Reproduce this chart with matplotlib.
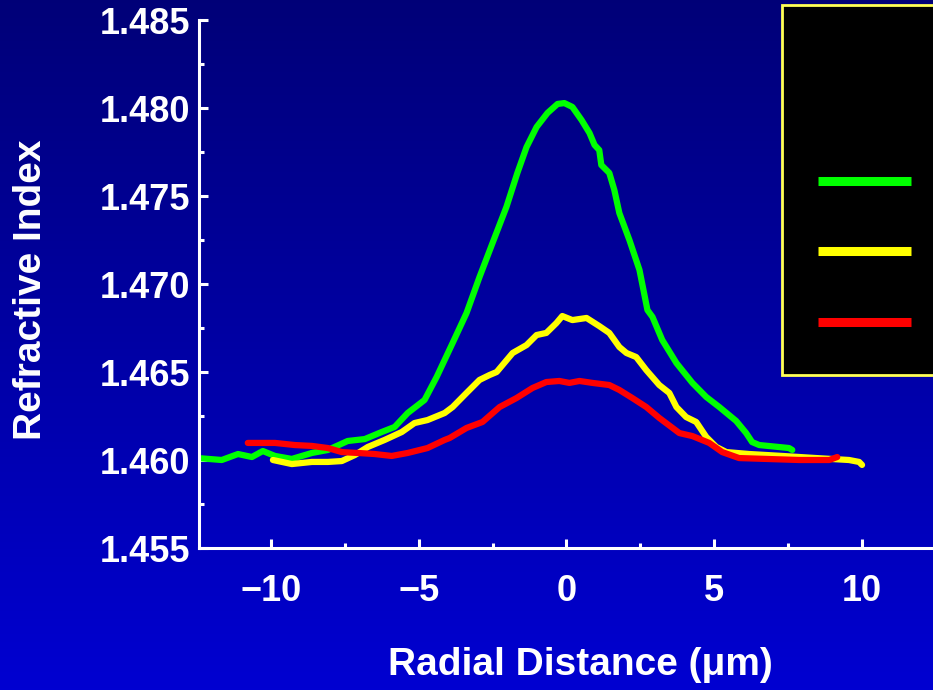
#!/usr/bin/env python3
import matplotlib
matplotlib.use('Agg')
import matplotlib.pyplot as plt
import numpy as np
from matplotlib.ticker import MultipleLocator
from matplotlib.patches import Rectangle

# refractive index profiles (x in um)
green_x = [-12.47, -11.66, -11.11, -10.64, -10.27, -9.86, -9.29, -8.61, -8.07, -7.40,
           -6.82, -6.25, -5.81, -5.37, -4.80, -4.39, -3.85, -3.38, -2.94, -2.50,
           -2.03, -1.66, -1.35, -1.01, -0.64, -0.30, -0.07, 0.20, 0.51, 0.78,
           0.95, 1.11, 1.18, 1.45, 1.62, 1.79, 2.13, 2.47, 2.74, 2.91,
           3.24, 3.72, 4.26, 4.73, 5.17, 5.74, 6.08, 6.28, 6.52, 7.53, 7.64]
green_y = [1.46011, 1.46000, 1.46034, 1.46017, 1.46051, 1.46023, 1.46006, 1.46040, 1.46057, 1.46108,
           1.46119, 1.46159, 1.46188, 1.46267, 1.46341, 1.46472, 1.46665, 1.46835, 1.47040, 1.47233,
           1.47438, 1.47631, 1.47778, 1.47892, 1.47972, 1.48023, 1.48028, 1.48006, 1.47932, 1.47858,
           1.47790, 1.47761, 1.47676, 1.47631, 1.47534, 1.47403, 1.47250, 1.47080, 1.46852, 1.46813,
           1.46682, 1.46551, 1.46438, 1.46358, 1.46301, 1.46222, 1.46153, 1.46102, 1.46085, 1.46068, 1.46057]

yellow_x = [-9.93, -9.29, -8.61, -8.07, -7.60, -7.16, -6.72, -6.15, -5.57, -5.14,
            -4.70, -4.12, -3.85, -3.38, -2.94, -2.60, -2.36, -1.82, -1.35, -1.01,
            -0.68, -0.34, -0.14, 0.20, 0.68, 1.11, 1.45, 1.79, 2.03, 2.36,
            2.70, 3.14, 3.48, 3.72, 4.05, 4.39, 4.73, 5.07, 5.41, 6.18,
            7.30, 8.45, 9.56, 9.90, 10.00]
yellow_y = [1.46000, 1.45977, 1.45989, 1.45989, 1.45994, 1.46028, 1.46074, 1.46114, 1.46159, 1.46210,
            1.46227, 1.46267, 1.46301, 1.46381, 1.46455, 1.46483, 1.46500, 1.46608, 1.46653, 1.46710,
            1.46722, 1.46778, 1.46818, 1.46795, 1.46807, 1.46761, 1.46722, 1.46642, 1.46608, 1.46585,
            1.46511, 1.46426, 1.46381, 1.46301, 1.46244, 1.46216, 1.46131, 1.46074, 1.46045, 1.46034,
            1.46023, 1.46011, 1.46000, 1.45989, 1.45972]

red_x = [-10.78, -9.86, -9.19, -8.61, -8.07, -7.60, -7.06, -6.49, -5.91, -5.37,
         -4.70, -4.12, -3.95, -3.38, -2.84, -2.26, -1.69, -1.15, -0.68, -0.24,
         0.10, 0.44, 0.88, 1.45, 1.79, 2.23, 2.70, 3.14, 3.82, 4.26,
         4.83, 5.27, 5.84, 6.76, 7.87, 8.89, 9.16]
red_y = [1.46097, 1.46097, 1.46085, 1.46080, 1.46068, 1.46045, 1.46040, 1.46034, 1.46023, 1.46040,
         1.46068, 1.46114, 1.46125, 1.46182, 1.46216, 1.46301, 1.46352, 1.46409, 1.46443, 1.46449,
         1.46438, 1.46449, 1.46438, 1.46426, 1.46398, 1.46352, 1.46301, 1.46239, 1.46153, 1.46136,
         1.46097, 1.46045, 1.46011, 1.46006, 1.46000, 1.46000, 1.46017]

series = [(green_x, green_y, '#00ff00'),
          (yellow_x, yellow_y, '#ffff00'),
          (red_x, red_y, '#ff0000')]

x_ticks = [-10, -5, 0, 5, 10]
y_ticks = [1.455, 1.460, 1.465, 1.470, 1.475, 1.480, 1.485]


def plot():
    plt.rcParams['font.family'] = ['Liberation Sans', 'DejaVu Sans']
    plt.rcParams['font.weight'] = 'bold'
    fig = plt.figure(figsize=(9.33, 6.9), dpi=100)

    # blue gradient background
    bg = fig.add_axes([0, 0, 1, 1], zorder=-1)
    grad = np.linspace(0, 1, 256).reshape(-1, 1)
    top = np.array([0.0, 0.0, 0.47])
    bottom = np.array([0.0, 0.0, 0.82])
    img = top + grad[..., None] * (bottom - top)
    bg.imshow(img, aspect='auto', extent=[0, 1, 0, 1], origin='upper')
    bg.set_axis_off()

    ax = fig.add_axes([199 / 933, 142 / 690, 1 - 199 / 933, 528 / 690])
    ax.set_facecolor('none')
    for xs, ys, c in series:
        ax.plot(xs, ys, color=c, lw=4.5, solid_capstyle='round')

    ax.set_xlim(-12.43, 12.4)
    ax.set_ylim(1.455, 1.485)
    ax.set_xticks(x_ticks)
    ax.set_yticks(y_ticks)
    ax.set_yticklabels(['%.3f' % v for v in y_ticks])
    ax.xaxis.set_minor_locator(MultipleLocator(2.5))
    ax.yaxis.set_minor_locator(MultipleLocator(0.0025))
    for s in ['top', 'right']:
        ax.spines[s].set_visible(False)
    for s in ['left', 'bottom']:
        ax.spines[s].set_color('white')
        ax.spines[s].set_linewidth(2.2)
    ax.tick_params(which='both', direction='in', colors='white', width=2.2)
    ax.tick_params(which='major', length=6.5, labelsize=26)
    ax.tick_params(which='minor', length=3.6)
    ax.tick_params(axis='x', pad=19)
    ax.tick_params(axis='y', pad=6)

    fig.text(580 / 933, 1 - 665 / 690, 'Radial Distance (\u03bcm)', color='white',
             fontsize=28, ha='center', va='center')
    fig.text(31 / 933, 1 - 290 / 690, 'Refractive Index', color='white',
             fontsize=28, ha='center', va='center', rotation=90)

    # legend box (labels are blank in the original)
    fig.patches.append(Rectangle((782 / 933, 1 - 375 / 690), 160 / 933, 370 / 690,
                                 transform=fig.transFigure, facecolor='black',
                                 edgecolor='#ffff55', lw=2.0, zorder=5))
    for ly, (_, _, c) in zip([181, 251, 322], series):
        fig.lines.append(plt.Line2D([818 / 933, 911 / 933], [1 - ly / 690] * 2,
                                    transform=fig.transFigure, color=c, lw=6.5,
                                    solid_capstyle='butt', zorder=6))

    fig.savefig('out.png', dpi=100)
    plt.close(fig)


if __name__ == "__main__":
    plot()
